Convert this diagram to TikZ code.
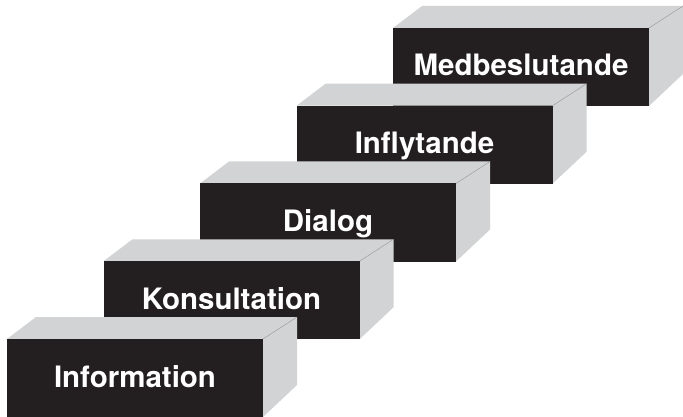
\documentclass[tikz,border=0pt]{standalone}
\usepackage{fontspec}
\setmainfont{TeX Gyre Heros}
\usetikzlibrary{calc}
\definecolor{boxfront}{HTML}{231F20}
\definecolor{boxside}{HTML}{D1D3D4}
\definecolor{boxedge}{HTML}{939598}

\begin{document}
\begin{tikzpicture}[x=1pt,y=-1pt,
  front face/.style={fill=boxfront},
  side face/.style={fill=boxside},
  fold line/.style={draw=boxedge,line width=0.4pt},
  step label/.style={anchor=base,text=white,inner sep=0pt,
    font=\bfseries\fontsize{29.5}{30}\selectfont}]

  \useasboundingbox (0,0) rectangle (683,417);

  % Steps drawn from the top one down, so that lower steps cover upper ones
  \foreach \i/\txt in {4/Medbeslutande,3/Inflytande,2/Dialog,1/Konsultation,0/Information} {
    \coordinate (c\i) at (7+96.5*\i, 339-77.75*\i);

    % top and right faces
    \fill [side face] (c\i) -- ++(29,-22) -- ++(261,0) -- ++(0,68)
      -- ++(-34,32) -- ++(0,-78) -- cycle;
    \draw [fold line] ($(c\i)+(256,0)$) -- ++(34,-22);

    % front face with its label
    \fill [front face] (c\i) rectangle ++(256,78);
    \node [step label] (s\i) at ($(c\i)+(128,48)$) {\txt};
  }
\end{tikzpicture}
\end{document}
